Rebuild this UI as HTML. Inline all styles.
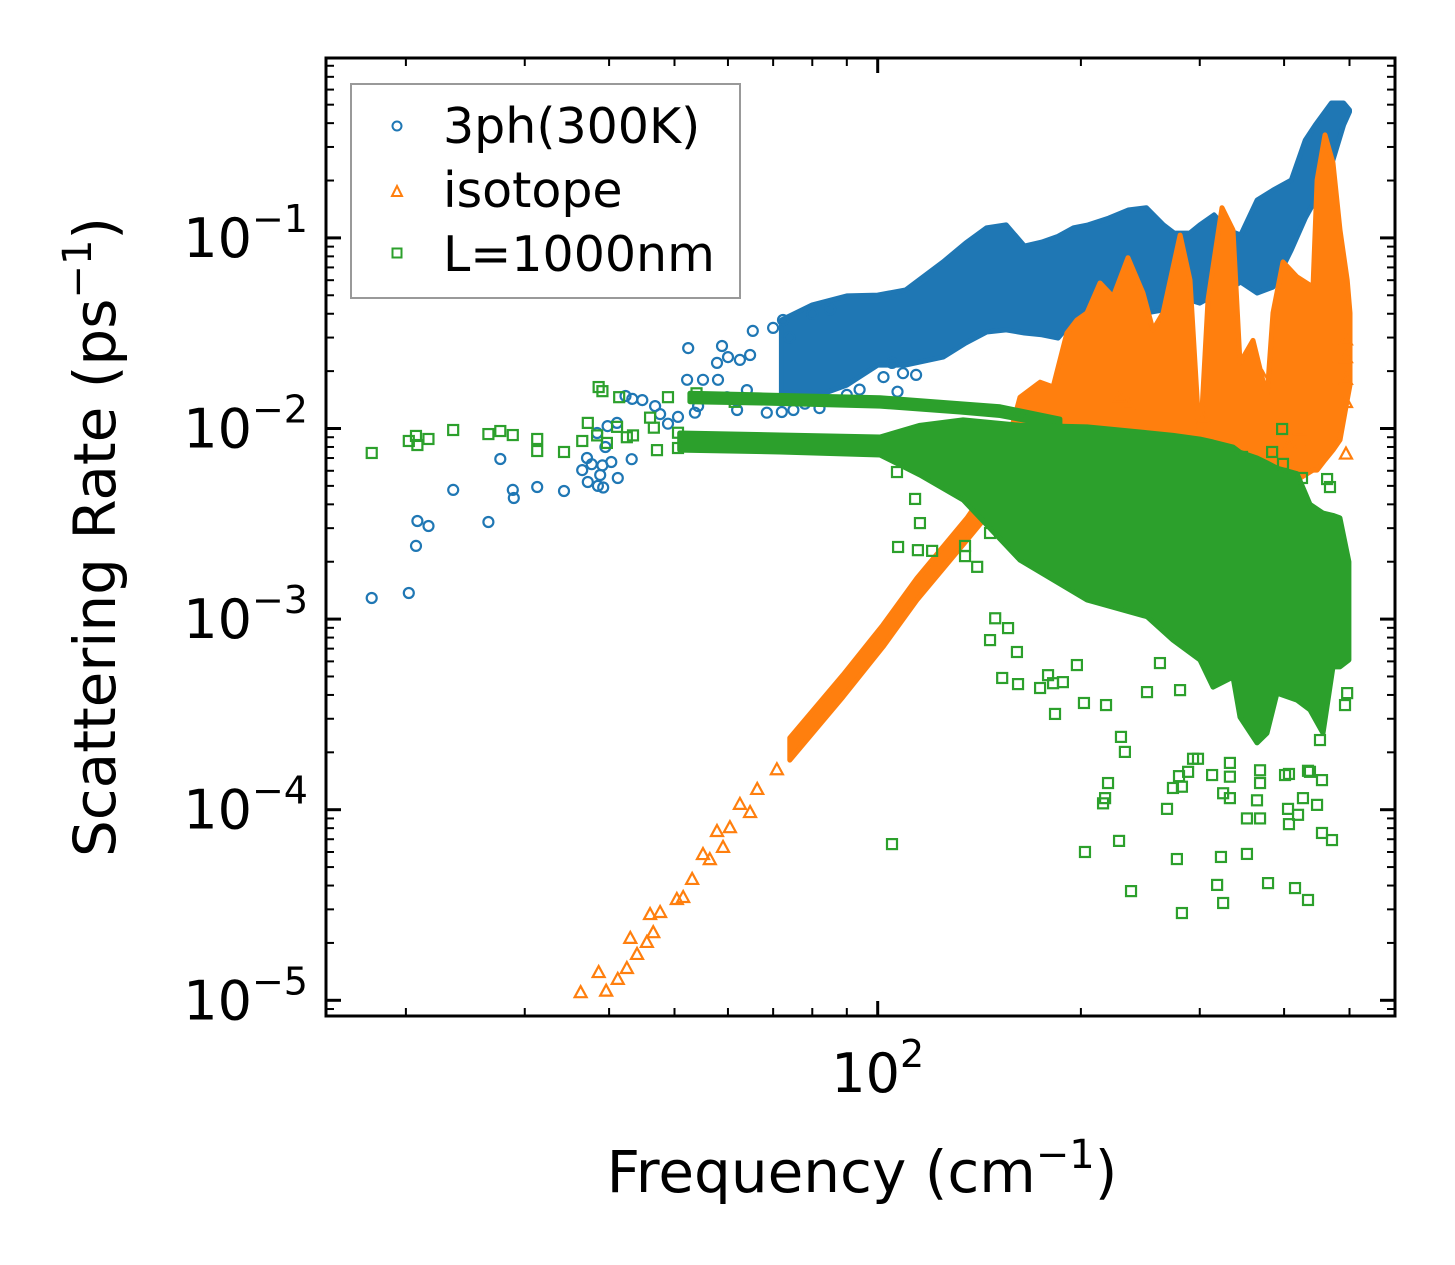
<!DOCTYPE html>
<html>
<head>
<meta charset="utf-8">
<style>
html,body{margin:0;padding:0;background:#fff;}
svg{display:block;}
text{font-family:"DejaVu Sans","Liberation Sans",sans-serif;fill:#000;}
</style>
</head>
<body>
<svg id="chart" width="1455" height="1265" viewBox="0 0 1455 1265" xmlns="http://www.w3.org/2000/svg">
  <rect x="0" y="0" width="1455" height="1265" fill="#fff"/>
  <g id="bands"></g>
  <g id="axes"></g>
  <text x="862" y="1192" font-size="58" text-anchor="middle">Frequency (cm<tspan dy="-24" font-size="40">−1</tspan><tspan dy="24">)</tspan></text>
  <text transform="translate(115,537) rotate(-90)" font-size="58" text-anchor="middle">Scattering Rate (ps<tspan dy="-24" font-size="40">−1</tspan><tspan dy="24">)</tspan></text>
  <g>
    <rect x="351" y="84" width="389" height="214" fill="#fff" stroke="#999" stroke-width="2"/>
    <circle cx="397" cy="126" r="4.5" fill="none" stroke="#1f77b4" stroke-width="2"/>
    <text x="443" y="143" font-size="49">3ph(300K)</text>
    <polygon points="397,186 402,196 392,196" fill="none" stroke="#ff7f0e" stroke-width="2"/>
    <text x="443" y="207" font-size="49">isotope</text>
    <rect x="392.5" y="248.5" width="9" height="9" fill="none" stroke="#2ca02c" stroke-width="2"/>
    <text x="443" y="271" font-size="49">L=1000nm</text>
  </g>
</svg>
<script>
// ---------- data (frequency in cm^-1, rate in ps^-1) ----------
const blueFreq = [17.8,20.2,20.7,20.8,21.6,23.5,26.5,27.6,28.8,28.9,31.3,34.3,36.5,37.1,37.2,37.7,38.8,39.1,39.2,38.5,40.3,41.2,43.2,38.4,39.8,41.1,39.5,42.3,43.3,44.8,46.8,47.6,48.9,50.6,52.4,52.2,55.1,54.2,53.6,58.8,60.0,57.8,58.0,62.5,64.7,65.3,70.0,72.4,68.5,72.1,61.9,59.8,64.0,105,107,109,114,102,75,78,82,86,90,94,74,80,85];
const blueRate = [0.00129,0.00137,0.00242,0.00327,0.00308,0.00476,0.00323,0.00692,0.00476,0.00432,0.00493,0.0047,0.00605,0.0070,0.00524,0.0065,0.0057,0.0064,0.0049,0.0050,0.00667,0.0055,0.0069,0.00947,0.0103,0.0107,0.0080,0.0148,0.0143,0.0141,0.0131,0.0119,0.0106,0.0115,0.0264,0.0180,0.0180,0.0131,0.0121,0.0271,0.0237,0.0221,0.018,0.0229,0.0243,0.0325,0.0337,0.0371,0.0121,0.0122,0.0125,0.0146,0.0159,0.0221,0.0156,0.0195,0.0191,0.0186,0.0125,0.0135,0.0128,0.0140,0.0150,0.0160,0.0300,0.0400,0.0420];
const blueBandFreq = [72,80,90,100,110,125,135,145,155,165,175,185,195,205,220,235,250,265,275,290,300,315,330,345,365,385,410,430,445,470,490,500];
const blueBandHigh = [0.0371,0.0445,0.0496,0.0501,0.0533,0.0748,0.094,0.113,0.117,0.0906,0.0951,0.102,0.113,0.117,0.127,0.140,0.144,0.117,0.106,0.106,0.117,0.132,0.110,0.1035,0.158,0.178,0.201,0.326,0.391,0.510,0.510,0.469];
const blueBandLow = [0.0141,0.0145,0.0169,0.0215,0.0215,0.0237,0.0281,0.0321,0.0329,0.0317,0.031,0.0298,0.0371,0.0419,0.0408,0.0394,0.0404,0.0419,0.0514,0.0472,0.0455,0.0501,0.0533,0.0587,0.0514,0.0552,0.0865,0.127,0.158,0.241,0.391,0.458];

const isoFreq = [36.3,39.6,38.6,41.2,42.5,44.0,43.0,45.5,46.5,46.0,47.6,50.4,51.5,53.1,55.1,56.4,59.0,57.8,60.4,62.5,64.7,66.3,70.9,494,494,494,494,494,228.6,221,234.9,422,408,372,304,313,430];
const isoRate = [1.09e-5,1.11e-5,1.39e-5,1.28e-5,1.46e-5,1.73e-5,2.10e-5,2.0e-5,2.25e-5,2.80e-5,2.87e-5,3.36e-5,3.44e-5,4.28e-5,5.78e-5,5.44e-5,6.3e-5,7.64e-5,8.0e-5,1.06e-4,9.6e-5,1.27e-4,1.61e-4,0.029,0.0234,0.018,0.0136,0.0073,0.0145,0.0125,0.0133,0.0098,0.0082,0.0184,0.0111,0.0087,0.0073];
const isoBandFreq = [74.1,88.8,101.8,114.3,135.6,151.8,162.5,174.0,181.9,190.7,197.3,204.2,213.5,223.2,234.9,247.2,255.8,264.7,280.5,290.2,300.3,308.6,323.6,336.0,344.2,359.7,377.3,385.2,398.5,418.0,441.5,447.6,459.9,472.7,484.1,496.0,500.9];
const isoBandHigh = [0.000238,0.000509,0.000931,0.00164,0.00339,0.00605,0.0146,0.0175,0.0165,0.0317,0.0371,0.0404,0.058,0.049,0.0787,0.0514,0.0329,0.0404,0.1035,0.0601,0.0080,0.0472,0.144,0.110,0.0221,0.029,0.0146,0.0404,0.0748,0.0624,0.0552,0.201,0.347,0.247,0.110,0.0601,0.0404];
const isoBandLow = [0.000182,0.00039,0.000714,0.00126,0.0026,0.00422,0.00537,0.00605,0.00605,0.00605,0.00684,0.00684,0.00684,0.00684,0.00684,0.00726,0.00684,0.00605,0.00537,0.00475,0.00422,0.00422,0.00422,0.00422,0.00331,0.00331,0.00331,0.00331,0.00422,0.00537,0.00605,0.00605,0.00684,0.0077,0.0087,0.0141,0.0169];

const bndFreq = [17.8,20.2,20.7,20.8,21.6,23.5,26.5,27.6,28.8,31.3,31.3,34.3,36.5,37.2,38.6,39.1,41.4,38.4,39.7,41.1,42.5,43.4,46.0,46.6,47.1,48.9,50.6,50.6,53.9,57.0,61.4,
 105.0,202.8,227.8,237.3,282.3,277.5,322.5,352.4,318.3,324.9,378.7,415.2,434.0,455.2,471.0,447.6,426.6,405.4,419.5,406.7,352.4,368.5,364.7,368.5,332.5,324.9,332.5,312.9,268.3,273.8,282.3,279.5,288.3,298.2,406.7,434.0,455.2,219.4,217.2,215.7,229.3,232.4,202.1,217.9,183.1,174.0,161.4,152.9,146.7,149.3,156.0,160.8,181.9,188.1,178.8,197.3,261.9,250.6,280.5,496.0,492.4,452.1,436.9,401.3,332.5,368.5,293.2,
 107.2,114.7,120.4,115.5,134.7,134.7,140.4,146.7,113.6,106.8,347.7,384.0,397.3,398.5,463.2,467.8,425.2,346.5];
const bndRate = [0.00744,0.0086,0.00914,0.00819,0.00881,0.00982,0.00935,0.0097,0.00924,0.00881,0.00762,0.00753,0.0086,0.0107,0.0165,0.0157,0.0146,0.0092,0.0084,0.0102,0.0090,0.0092,0.0114,0.0101,0.0077,0.0146,0.0095,0.0079,0.0153,0.0145,0.0138,
 6.6e-5,6.0e-5,6.86e-5,3.74e-5,2.87e-5,5.51e-5,5.65e-5,5.86e-5,4.03e-5,3.24e-5,4.12e-5,3.88e-5,3.36e-5,7.55e-5,6.93e-5,1.06e-4,1.15e-4,1.01e-4,9.4e-5,8.4e-5,9.0e-5,9.0e-5,1.12e-4,1.38e-4,1.15e-4,1.22e-4,1.49e-4,1.52e-4,1.01e-4,1.30e-4,1.32e-4,1.50e-4,1.58e-4,1.85e-4,1.54e-4,1.60e-4,1.43e-4,1.38e-4,1.15e-4,1.08e-4,2.41e-4,2.01e-4,3.63e-4,3.54e-4,3.18e-4,4.35e-4,4.56e-4,4.91e-4,7.76e-4,1.01e-3,8.97e-4,6.72e-4,4.61e-4,4.67e-4,5.08e-4,5.74e-4,5.88e-4,4.14e-4,4.24e-4,4.09e-4,3.54e-4,2.32e-4,1.58e-4,1.52e-4,1.76e-4,1.61e-4,1.85e-4,
 0.00239,0.0023,0.00228,0.00319,0.00242,0.00214,0.00188,0.00283,0.00427,0.00591,0.00564,0.00753,0.00994,0.00652,0.00543,0.00493,0.0055,0.00709];
const bndUpperFreq = [52.7,66.9,100.8,132.4,151.8,186.2];
const bndUpperHigh = [0.0153,0.0150,0.0145,0.0135,0.0130,0.0112];
const bndUpperLow = [0.0138,0.0136,0.0131,0.0122,0.0117,0.0102];
const bndMassFreq = [50.9,71.6,100.8,115.5,133.8,162.5,204.2,250.6,273.8,300.3,313.9,336.0,344.2,364.7,377.3,390.5,418.0,436.9,456.7,472.7,483.9,498.9];
const bndMassHigh = [0.00947,0.00924,0.00902,0.0104,0.0111,0.0104,0.0102,0.0095,0.0092,0.0088,0.0085,0.0080,0.0075,0.0070,0.0066,0.0062,0.0058,0.0040,0.0036,0.0035,0.0034,0.0020];
const bndMassLow = [0.0077,0.00753,0.00726,0.0057,0.00422,0.00204,0.00126,0.00103,0.000776,0.00061,0.00044,0.000497,0.000306,0.000224,0.000252,0.000409,0.000376,0.000334,0.000252,0.000561,0.000561,0.00061];

const yTickExps = [-1,-2,-3,-4,-5];
const xTickExps = [2];
const xMinorTicks = [20,30,40,50,60,70,80,90,200,300,400,500];

// ---------- scales ----------
const PL=326, PR=1395, PT=58, PB=1016;
function X(f){ return 877.7 + 675*(Math.log10(f)-2); }
function Y(v){ return 428.5 - 190.6*(Math.log10(v)+2); }

const NS="http://www.w3.org/2000/svg";
function mk(tag, attrs, parent){
  const e=document.createElementNS(NS,tag);
  for(const k in attrs) e.setAttribute(k, attrs[k]);
  parent.appendChild(e);
  return e;
}
const svg=document.getElementById('chart');
const bands=document.getElementById('bands');
const axes=document.getElementById('axes');
const C1="#1f77b4", C2="#ff7f0e", C3="#2ca02c";

const defs=mk('defs',{},svg);
const cp=mk('clipPath',{id:'plotclip'},defs);
mk('rect',{x:PL,y:PT,width:PR-PL,height:PB-PT},cp);
const layer=mk('g',{'clip-path':'url(#plotclip)'},bands);



function band(freq, hi, lo, color, name){
  const pts=[];
  for(let i=0;i<freq.length;i++) pts.push(X(freq[i]).toFixed(1)+","+Y(hi[i]).toFixed(1));
  for(let i=freq.length-1;i>=0;i--) pts.push(X(freq[i]).toFixed(1)+","+Y(lo[i]).toFixed(1));
  const p=mk('polygon',{points:pts.join(' '),fill:color,stroke:color,'stroke-width':5,'stroke-linejoin':'round'},layer);
  
  
}
function circle(f,v){
  const e=mk('circle',{cx:X(f).toFixed(1),cy:Y(v).toFixed(1),r:5,fill:'none',stroke:C1,'stroke-width':2.2},layer);
  
  
}
function tri(f,v){
  const x=X(f), y=Y(v);
  const e=mk('polygon',{points:`${x},${y-7} ${x+6},${y+4} ${x-6},${y+4}`,fill:'none',stroke:C2,'stroke-width':2.2},layer);
  
  
}
function sq(f,v){
  const x=X(f), y=Y(v);
  const e=mk('rect',{x:x-5,y:y-5,width:10,height:10,fill:'none',stroke:C3,'stroke-width':2.2},layer);
  
  
}

band(blueBandFreq, blueBandHigh, blueBandLow, C1, 'band-3ph');
for(let i=0;i<blueFreq.length;i++) circle(blueFreq[i], blueRate[i]);
band(isoBandFreq, isoBandHigh, isoBandLow, C2, 'band-isotope');
for(let i=0;i<isoFreq.length;i++) tri(isoFreq[i], isoRate[i]);
band(bndUpperFreq, bndUpperHigh, bndUpperLow, C3, 'band-boundary-upper');
band(bndMassFreq, bndMassHigh, bndMassLow, C3, 'band-boundary-main');
for(let i=0;i<bndFreq.length;i++) sq(bndFreq[i], bndRate[i]);

// ---------- axes ----------
const frame=mk('rect',{x:PL,y:PT,width:PR-PL,height:PB-PT,fill:'none',stroke:'#000','stroke-width':3},axes);



function line(x1,y1,x2,y2,w,name){
  const e=mk('line',{x1,y1,x2,y2,stroke:'#000','stroke-width':w},axes);
  
  
}
for(let d=-6; d<=0; d++){
  for(let m=1;m<=9;m++){
    const v=m*Math.pow(10,d);
    const y=Y(v);
    if(y<PT+1||y>PB-1) continue;
    const len = m===1?15:8, w = m===1?3:2;
    line(PL,y,PL+len,y,w,'y-tick');
    line(PR,y,PR-len,y,w,'y-tick-right');
  }
}
yTickExps.forEach(e=>{
  const y=Y(Math.pow(10,e));
  const t=mk('text',{x:308,y:y+19,'font-size':54,'text-anchor':'end'},axes);
  
  
  t.innerHTML='10<tspan dy="-25" font-size="38">−'+(-e)+'</tspan>';
});
xTickExps.forEach(e=>{
  const x=X(Math.pow(10,e));
  line(x,PB,x,PB-15,3,'x-tick');
  line(x,PT,x,PT+15,3,'x-tick-top');
  const t=mk('text',{x:x,y:1092,'font-size':54,'text-anchor':'middle'},axes);
  
  
  t.innerHTML='10<tspan dy="-25" font-size="38">'+e+'</tspan>';
});
xMinorTicks.forEach(f=>{
  const x=X(f);
  line(x,PB,x,PB-8,2,'x-minor-tick');
  line(x,PT,x,PT+8,2,'x-minor-tick-top');
});
</script>
</body>
</html>
